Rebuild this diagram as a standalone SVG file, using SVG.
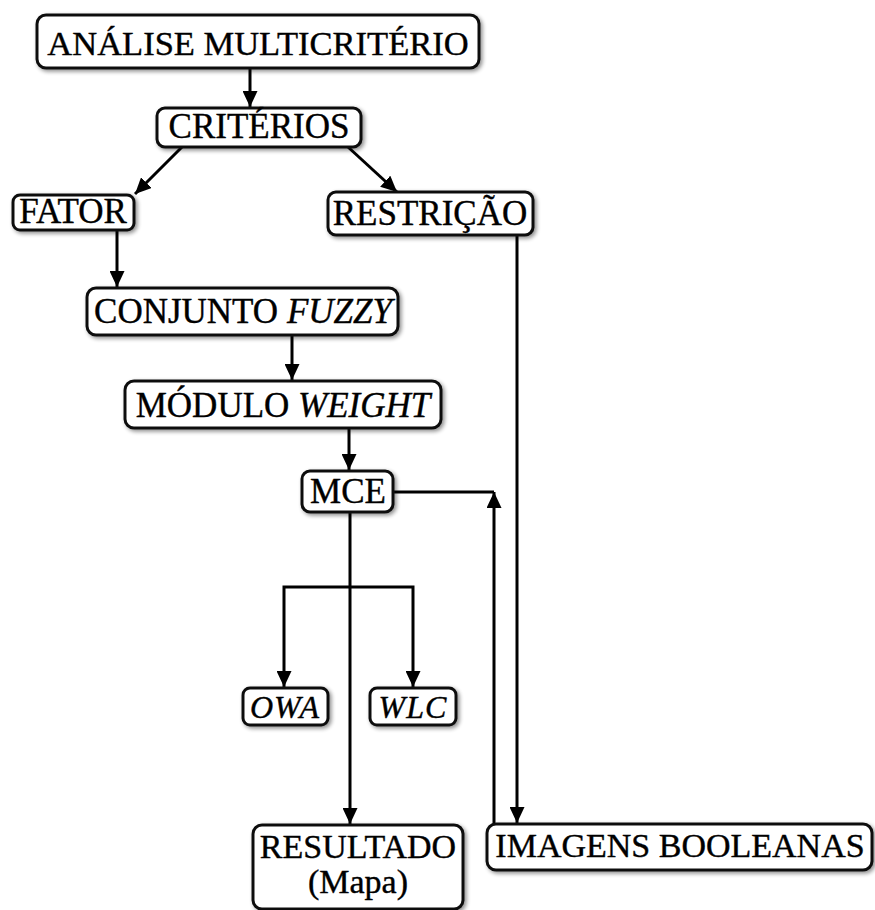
<svg xmlns="http://www.w3.org/2000/svg" width="875" height="910" viewBox="0 0 875 910">
<style>
.box{fill:#fff;stroke:#111;stroke-width:3;filter:url(#sh)}
.t{font-family:"Liberation Serif","Times New Roman",serif;font-size:35px;fill:#000;stroke:#000;stroke-width:0.4;text-anchor:middle}
.i{font-style:italic}
.c{fill:none;stroke:#000;stroke-width:3}
.a{marker-end:url(#arr)}
</style>
<defs>
<filter id="sh" x="-10%" y="-20%" width="125%" height="150%">
<feGaussianBlur in="SourceAlpha" stdDeviation="2"/>
<feOffset dx="2" dy="2" result="b"/>
<feComponentTransfer><feFuncA type="linear" slope="0.45"/></feComponentTransfer>
<feMerge><feMergeNode/><feMergeNode in="SourceGraphic"/></feMerge>
</filter>
<marker id="arr" viewBox="0 0 16 15" refX="16" refY="7.5" markerWidth="16" markerHeight="15" markerUnits="userSpaceOnUse" orient="auto">
<path d="M0,0 L16,7.5 L0,15 z" fill="#000"/>
</marker>
</defs>
<g id="connectors">
<path class="c a" d="M250,68 V107"/>
<path class="c a" d="M182,147 L135,194"/>
<path class="c a" d="M348,147 L397,192"/>
<path class="c a" d="M117,230 V287"/>
<path class="c a" d="M292,335 V380"/>
<path class="c a" d="M349,428 V470"/>
<path class="c a" d="M350,512 V824"/>
<path class="c a" d="M350,587 H284 V687"/>
<path class="c a" d="M350,587 H413 V687"/>
<path class="c a" d="M517,235 V823"/>
<path class="c" d="M393,492 H494"/>
<path class="c a" d="M494,824 V492"/>
</g>
<g id="analise"><rect class="box" x="37" y="15" width="442" height="53" rx="9"/><text class="t" x="258" y="55" style="font-size:34.5px">ANÁLISE MULTICRITÉRIO</text></g>
<g id="criterios"><rect class="box" x="157" y="108" width="204" height="39" rx="8"/><text class="t" x="259" y="138">CRITÉRIOS</text></g>
<g id="fator"><rect class="box" x="13" y="195" width="121" height="35" rx="7"/><text class="t" x="73" y="223">FATOR</text></g>
<g id="restricao"><rect class="box" x="328" y="192" width="205" height="43" rx="8"/><text class="t" x="430" y="225">RESTRIÇÃO</text></g>
<g id="conjunto"><rect class="box" x="87" y="288" width="311" height="47" rx="9"/><text class="t" x="243" y="323">CONJUNTO <tspan class="i">FUZZY</tspan></text></g>
<g id="modulo"><rect class="box" x="125" y="381" width="316" height="47" rx="9"/><text class="t" x="283" y="417">MÓDULO <tspan class="i">WEIGHT</tspan></text></g>
<g id="mce"><rect class="box" x="302" y="471" width="91" height="41" rx="8"/><text class="t" x="348" y="503">MCE</text></g>
<g id="owa"><rect class="box" x="243" y="688" width="85" height="37" rx="7"/><text class="t i" x="285" y="718" style="font-size:32px;letter-spacing:1px">OWA</text></g>
<g id="wlc"><rect class="box" x="370" y="688" width="86" height="37" rx="7"/><text class="t i" x="413" y="718" style="font-size:32px;letter-spacing:1px">WLC</text></g>
<g id="resultado"><rect class="box" x="253" y="825" width="210" height="84" rx="9"/><text class="t" x="358" y="858" style="font-size:34px">RESULTADO</text><text class="t" x="358" y="893" style="font-size:34px">(Mapa)</text></g>
<g id="imagens"><rect class="box" x="487" y="824" width="385" height="46" rx="9"/><text class="t" x="680" y="857" style="font-size:34px">IMAGENS BOOLEANAS</text></g>
</svg>
